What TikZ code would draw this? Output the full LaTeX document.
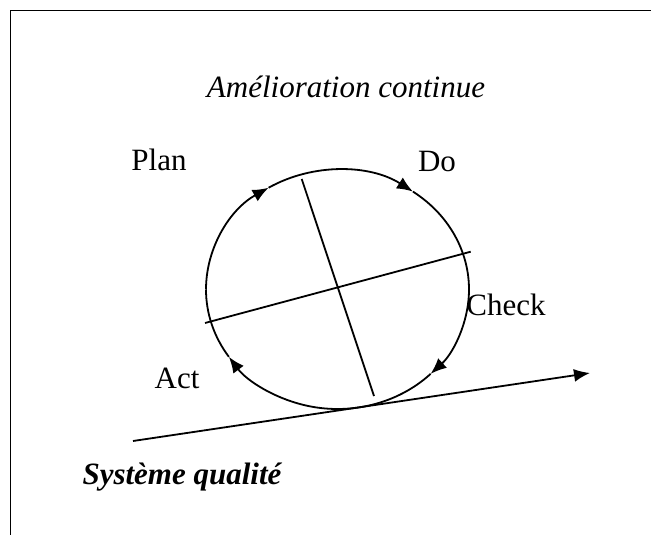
\documentclass[tikz,border=0pt]{standalone}
\usepackage{fontspec}
\setmainfont{Liberation Serif}
\usetikzlibrary{arrows.meta}

\begin{document}
\begin{tikzpicture}[x=1pt, y=1pt, line width=1.8pt,
    txt/.style={anchor=base, inner sep=0pt, font=\fontsize{31}{36}\selectfont},
    cyclearrow/.style={-{Latex[length=16pt,width=13pt]}}]
        \useasboundingbox (0, 0) rectangle (651, -535);
        \draw (10.5, -535) -- (10.5, -10.5) -- (651, -10.5);
        \coordinate (c) at (337.5, -289.5);
        % the cycle, clockwise
        \foreach \a/\b in {180/121.6, 121.6/55, 55/-44.9, -44.9/-145.7}
            \draw[cyclearrow] (c) ++(\a:131.5 and 119.5) arc[start angle=\a, end angle=\b, x radius=131.5, y radius=119.5];
        \draw (c) ++(-145.7:131.5 and 119.5) arc[start angle=-145.7, end angle=-180, x radius=131.5, y radius=119.5];
        \draw (301.7, -179) -- (374, -396);
        \draw (205, -323) -- (470.7, -251.7);
        \coordinate (base start) at (133, -441);
        \coordinate (base end) at (590, -373);
        \draw[cyclearrow] (base start) -- (base end);
        \node[txt] (title) at (346, -97) {\itshape Amélioration continue};
        \node[txt] (plan) at (159, -170) {Plan};
        \node[txt] (do) at (437, -171) {Do};
        \node[txt] (check) at (506, -315) {Check};
        \node[txt] (act) at (177, -388) {Act};
        \node[txt] (system) at (182, -484) {\bfseries\itshape Système qualité};
\end{tikzpicture}
\end{document}
